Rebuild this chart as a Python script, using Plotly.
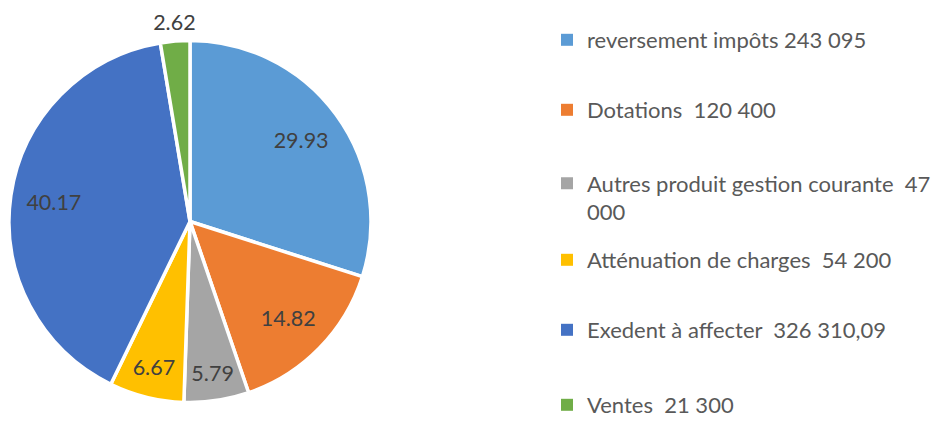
import plotly.graph_objects as go

labels = ["reversement impôts 243 095", "Dotations  120 400", "Autres produit gestion courante  47<br>000",
          "Atténuation de charges  54 200", "Exedent à affecter  326 310,09", "Ventes  21 300"]
values = [29.93, 14.82, 5.79, 6.67, 40.17, 2.62]
colors = ["#5B9BD5", "#ED7D31", "#A5A5A5", "#FFC000", "#4472C4", "#70AD47"]
label_inside = [True, True, True, True, True, False]
legend_centers = [40, 110, 198, 260, 330, 405]

# the page body adds an 8px margin, so the figure is drawn from (8, 8)
OFF = 8
W, H = 939 - OFF, 421 - OFF
FONT = "Lato"
FS = 21.5
LFS = 22
CLEAR = "rgba(0,0,0,0)"
texts = [f"{v:.2f}" for v in values]


def fx(px):
    return (px - OFF) / W


def fy(py):
    return 1 - (py - OFF) / H


pie_domain = dict(x=[fx(9), fx(371)], y=[fy(403), fy(40)])
common = dict(values=values, labels=labels, sort=False, direction="clockwise", rotation=0,
              showlegend=False)

fig = go.Figure()
# coloured pie
fig.add_trace(go.Pie(
    **common, marker=dict(colors=colors, line=dict(color="white", width=3.5)),
    textinfo="none", hoverinfo="label+value", domain=pie_domain,
))
# transparent ring carrying the inside data labels
fig.add_trace(go.Pie(
    **common, hole=0.52, marker=dict(colors=[CLEAR] * len(values), line=dict(width=0)),
    text=texts, textinfo="text",
    textposition=["inside" if f else "none" for f in label_inside],
    insidetextorientation="horizontal",
    textfont=dict(family=FONT, size=FS, color="#404040"),
    hoverinfo="skip", domain=pie_domain,
))
# transparent pie carrying the outside data label
fig.add_trace(go.Pie(
    **common, marker=dict(colors=[CLEAR] * len(values), line=dict(width=0)),
    text=texts, textinfo="text",
    textposition=["none" if f else "outside" for f in label_inside],
    textfont=dict(family=FONT, size=FS, color="#404040"),
    hoverinfo="skip", domain=dict(x=[fx(36), fx(398)], y=[fy(397), fy(34)]),
))

legend_layouts = {}
for i, (lab, col, c) in enumerate(zip(labels, colors, legend_centers)):
    key = "legend" if i == 0 else f"legend{i + 1}"
    fig.add_trace(go.Scatter(
        x=[None], y=[None], mode="markers", name=lab,
        marker=dict(symbol="square", size=8, color=col),
        legend=key, showlegend=True, hoverinfo="skip",
    ))
    legend_layouts[key] = dict(
        x=fx(547), xanchor="left", y=fy(c), yanchor="middle",
        bgcolor=CLEAR, valign="top", itemsizing="constant",
        font=dict(family=FONT, size=LFS, color="#595959"),
    )

fig.update_layout(
    width=W, height=H, margin=dict(l=0, r=0, t=0, b=0, autoexpand=False),
    paper_bgcolor="white", plot_bgcolor="white",
    xaxis=dict(visible=False, domain=[0.99, 1]), yaxis=dict(visible=False, domain=[0.99, 1]),
    uniformtext=dict(minsize=FS, mode="show"),
    **legend_layouts,
)

fig.write_html("out.html")
